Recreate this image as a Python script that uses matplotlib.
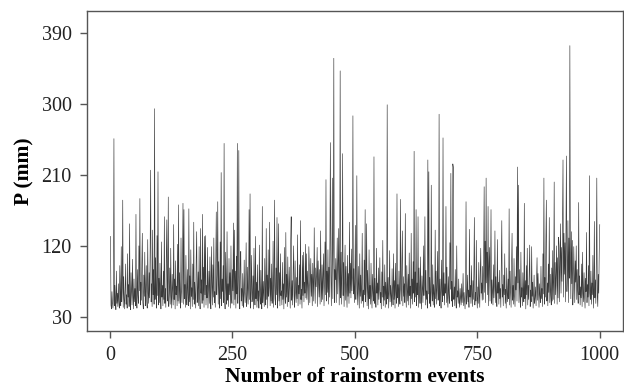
import numpy as np
import matplotlib
matplotlib.use("Agg")
import matplotlib.pyplot as plt

# rainfall depth of each rainstorm event (mm), in event order
p_mm = [
    132, 45, 40, 62, 48, 41, 55, 256, 44, 70,
    52, 39, 88, 47, 60, 43, 72, 50, 41, 95,
    58, 44, 119, 49, 66, 178, 42, 81, 53, 40,
    64, 97, 46, 58, 41, 110, 55, 71, 43, 148,
    50, 39, 86, 62, 45, 103, 57, 40, 78, 49,
    66, 44, 160, 52, 41, 90, 58, 47, 120, 63,
    180, 45, 74, 51, 99, 136, 48, 40, 83, 56,
    112, 44, 62, 95, 50, 41, 128, 60, 47, 86,
    54, 118, 216, 49, 72, 43, 140, 58, 90, 46,
    294, 52, 105, 64, 41, 133, 57, 214, 45, 79,
    48, 98, 61, 40, 125, 55, 70, 44, 88, 52,
    157, 47, 66, 42, 109, 153, 50, 74, 182, 43,
    60, 92, 46, 117, 56, 41, 84, 63, 45, 147,
    52, 78, 40, 101, 58, 69, 44, 122, 50, 172,
    47, 86, 55, 41, 130, 62, 48, 95, 174, 46,
    166, 53, 71, 42, 108, 57, 45, 90, 61, 44,
    167, 49, 82, 40, 115, 56, 67, 43, 97, 52,
    150, 46, 74, 58, 41, 103, 138, 48, 63, 87,
    44, 119, 55, 40, 142, 60, 77, 47, 160, 51,
    93, 42, 132, 58, 133, 45, 70, 54, 118, 41,
    64, 88, 47, 106, 52, 40, 119, 73, 45, 96,
    55, 130, 48, 62, 42, 110, 163, 58, 84, 176,
    46, 100, 60, 41, 125, 53, 213, 44, 78, 62,
    95, 48, 250, 55, 40, 112, 67, 46, 138, 51,
    72, 43, 104, 58, 86, 41, 120, 56, 47, 90,
    63, 149, 45, 140, 52, 88, 41, 107, 59, 250,
    47, 80, 241, 54, 40, 98, 113, 50, 66, 44,
    85, 57, 42, 102, 61, 48, 76, 124, 43, 58,
    93, 46, 70, 166, 52, 186, 41, 64, 108, 49,
    55, 82, 40, 117, 60, 45, 132, 53, 74, 42,
    96, 50, 63, 41, 121, 57, 46, 89, 54, 40,
    170, 48, 75, 59, 43, 104, 62, 45, 142, 52,
    83, 41, 115, 56, 68, 150, 44, 79, 50, 97,
    47, 60, 126, 42, 71, 178, 53, 45, 92, 58,
    156, 41, 66, 148, 50, 86, 44, 110, 57, 63,
    45, 99, 52, 72, 40, 118, 61, 47, 137, 55,
    84, 43, 106, 58, 49, 93, 64, 41, 128, 157,
    51, 76, 45, 88, 120, 56, 42, 101, 62, 48,
    80, 53, 134, 44, 70, 59, 96, 46, 152, 52,
    65, 41, 108, 57, 112, 49, 74, 60, 122, 54,
    110, 52, 88, 70, 45, 119, 95, 48, 76, 104,
    56, 84, 44, 98, 72, 50, 143, 80, 47, 92,
    68, 86, 118, 43, 101, 74, 55, 90, 46, 139,
    78, 49, 96, 52, 84, 110, 44, 72, 125, 58,
    204, 50, 88, 61, 115, 46, 93, 55, 128, 251,
    82, 44, 97, 206, 53, 118, 358, 48, 90, 77,
    104, 48, 86, 130, 59, 95, 142, 45, 81, 342,
    54, 112, 46, 88, 237, 57, 99, 43, 79, 121,
    51, 94, 62, 42, 108, 56, 85, 47, 150, 60,
    98, 54, 116, 63, 80, 285, 59, 91, 48, 73,
    146, 52, 77, 209, 60, 45, 94, 68, 41, 110,
    56, 83, 47, 71, 136, 50, 64, 42, 102, 58,
    166, 49, 75, 148, 44, 89, 61, 40, 115, 53,
    70, 46, 98, 57, 41, 84, 63, 50, 233, 47,
    79, 55, 42, 117, 60, 73, 45, 92, 52, 66,
    105, 48, 61, 40, 87, 55, 127, 44, 69, 51,
    96, 42, 74, 58, 46, 299, 53, 80, 41, 63,
    114, 49, 70, 57, 43, 91, 60, 45, 110, 52,
    76, 41, 98, 62, 47, 186, 54, 71, 43, 88,
    58, 46, 179, 65, 50, 102, 139, 44, 81, 56,
    72, 48, 161, 59, 42, 95, 63, 50, 84, 45,
    111, 57, 69, 41, 136, 53, 78, 46, 100, 60,
    240, 49, 87, 55, 166, 44, 73, 58, 157, 42,
    92, 61, 47, 106, 54, 40, 82, 66, 48, 120,
    57, 74, 157, 45, 89, 52, 63, 41, 229, 59,
    214, 47, 80, 56, 43, 197, 62, 50, 96, 45,
    71, 58, 42, 140, 53, 88, 46, 67, 113, 51,
    60, 287, 44, 78, 55, 41, 102, 63, 49, 257,
    57, 86, 45, 72, 60, 170, 48, 93, 54, 42,
    81, 59, 47, 124, 65, 212, 50, 75, 43, 224,
    220, 52, 68, 44, 90, 57, 41, 120, 55, 63,
    47, 78, 50, 42, 66, 54, 45, 72, 48, 58,
    85, 44, 61, 51, 40, 69, 176, 46, 57, 83,
    49, 64, 42, 141, 55, 70, 47, 95, 58, 43,
    76, 52, 88, 156, 45, 61, 50, 127, 56, 41,
    68, 47, 99, 58, 42, 85, 117, 60, 73, 51,
    94, 52, 108, 195, 61, 126, 48, 206, 73, 112,
    58, 170, 44, 92, 118, 50, 84, 166, 47, 77,
    62, 45, 96, 54, 70, 139, 48, 81, 57, 43,
    128, 60, 74, 46, 89, 53, 66, 42, 101, 152,
    55, 71, 44, 83, 58, 110, 47, 65, 41, 92,
    60, 49, 78, 53, 167, 45, 88, 62, 42, 97,
    136, 51, 70, 46, 104, 57, 43, 81, 64, 119,
    50, 220, 73, 197, 48, 90, 59, 42, 112, 55,
    67, 44, 86, 61, 49, 174, 53, 76, 40, 95,
    58, 117, 45, 70, 52, 88, 121, 43, 64, 49,
    119, 56, 74, 41, 60, 83, 47, 55, 68, 44,
    79, 105, 51, 85, 62, 42, 72, 57, 48, 94,
    53, 66, 43, 110, 59, 206, 46, 80, 55, 128,
    178, 50, 73, 44, 97, 61, 156, 48, 84, 57,
    45, 92, 50, 114, 52, 76, 201, 47, 99, 58,
    85, 120, 46, 105, 54, 131, 120, 49, 96, 148,
    60, 118, 75, 160, 229, 55, 136, 84, 124, 49,
    142, 234, 62, 87, 152, 48, 130, 79, 374, 115,
    53, 138, 72, 127, 45, 64, 119, 86, 48, 101,
    74, 120, 52, 90, 63, 47, 175, 58, 82, 45,
    68, 54, 97, 43, 112, 60, 49, 86, 57, 41,
    79, 62, 137, 48, 71, 55, 95, 44, 209, 60,
    52, 88, 46, 73, 58, 108, 41, 66, 151, 54,
    77, 47, 98, 206, 56, 43, 84, 60, 112, 147,
]
events = np.arange(1, len(p_mm) + 1)

x_ticks = [0, 250, 500, 750, 1000]
y_ticks = [30, 120, 210, 300, 390]

plt.rcParams['font.family'] = ['Liberation Serif', 'DejaVu Serif']

fig = plt.figure(figsize=(6.24, 3.92), dpi=100)
ax = fig.add_axes([0.1394, 0.1556, 0.8586, 0.8164])

ax.plot(events, p_mm, color='#3a3a3a', lw=0.45)

ax.set_xlim(-47, 1047)
ax.set_ylim(12, 418)
ax.set_xticks(x_ticks)
ax.set_yticks(y_ticks)
ax.tick_params(direction='out', length=5, width=1, color='#555555',
               labelsize=14.5, labelcolor='#222222')
ax.tick_params(axis='x', pad=6)
ax.tick_params(axis='y', pad=6)
for s in ax.spines.values():
    s.set_color('#555555')
    s.set_linewidth(1)

ax.set_xlabel('Number of rainstorm events', fontsize=15.5, fontweight='bold', labelpad=1)
ax.set_ylabel('P (mm)', fontsize=15.5, fontweight='bold', labelpad=5)

fig.savefig('out.png', dpi=100)
